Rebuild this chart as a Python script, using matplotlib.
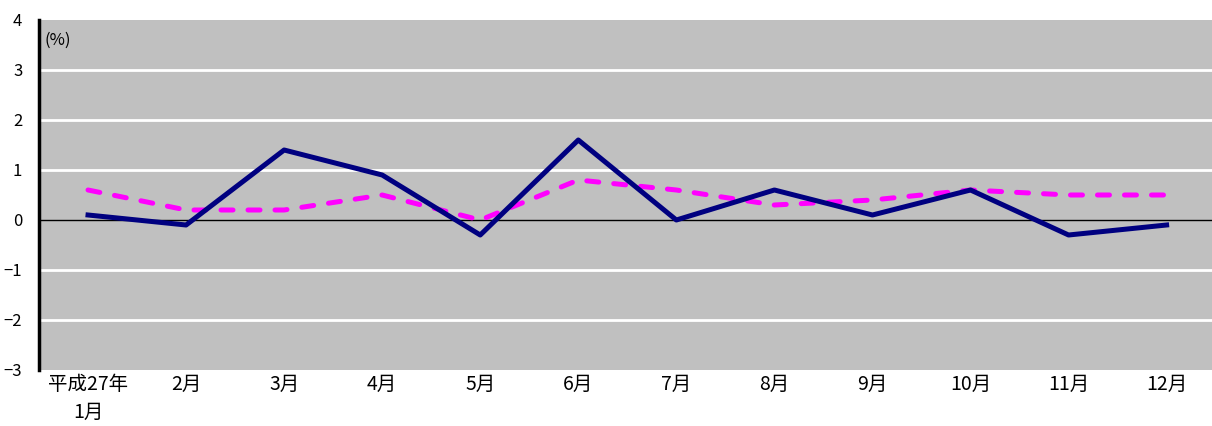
import matplotlib
matplotlib.use("Agg")
import matplotlib.pyplot as plt

plt.rcParams['font.family'] = ['Noto Sans CJK JP', 'DejaVu Sans']

months = ["平成27年\n1月", "2月", "3月", "4月", "5月", "6月",
          "7月", "8月", "9月", "10月", "11月", "12月"]
series_solid = [0.1, -0.1, 1.4, 0.9, -0.3, 1.6, 0.0, 0.6, 0.1, 0.6, -0.3, -0.1]
series_dashed = [0.6, 0.2, 0.2, 0.5, 0.0, 0.8, 0.6, 0.3, 0.4, 0.6, 0.5, 0.5]
yticks = [-3, -2, -1, 0, 1, 2, 3, 4]
ytick_labels = ["−3", "−2", "−1", "0", "1", "2", "3", "4"]

fig = plt.figure(figsize=(12.12, 4.26), dpi=100)
ax = fig.add_axes([39 / 1212, 56 / 426, 1 - 39 / 1212 + 0.003, 350 / 426])
ax.set_facecolor("#C0C0C0")

x = list(range(len(months)))

# white gridlines, black zero line
for v in [-2, -1, 1, 2, 3]:
    ax.axhline(v, color="white", lw=2, zorder=1)
ax.axhline(0, color="black", lw=1, zorder=1)

ax.plot(x, series_dashed, color="#FF00FF", lw=3.6, ls=(0, (2.4, 3.0)),
        dash_capstyle="round", zorder=3)
ax.plot(x, series_solid, color="#000080", lw=3.6, zorder=4)

ax.set_xlim(-0.5, 11.5)
ax.set_ylim(-3, 4)
ax.set_yticks(yticks)
ax.set_yticklabels(ytick_labels, fontsize=12)
ax.set_xticks(x)
ax.set_xticklabels(months, fontsize=14, linespacing=1.45)
ax.tick_params(axis="x", length=0, pad=3)
ax.tick_params(axis="y", length=0, pad=12)

for side in ["top", "right", "bottom"]:
    ax.spines[side].set_visible(False)
ax.spines["left"].set_linewidth(2.5)
ax.spines["left"].set_color("black")

ax.text(0.005, 3.6, "(%)", fontsize=12, ha="left", va="center",
        transform=ax.get_yaxis_transform())

fig.savefig("out.png", dpi=100)
